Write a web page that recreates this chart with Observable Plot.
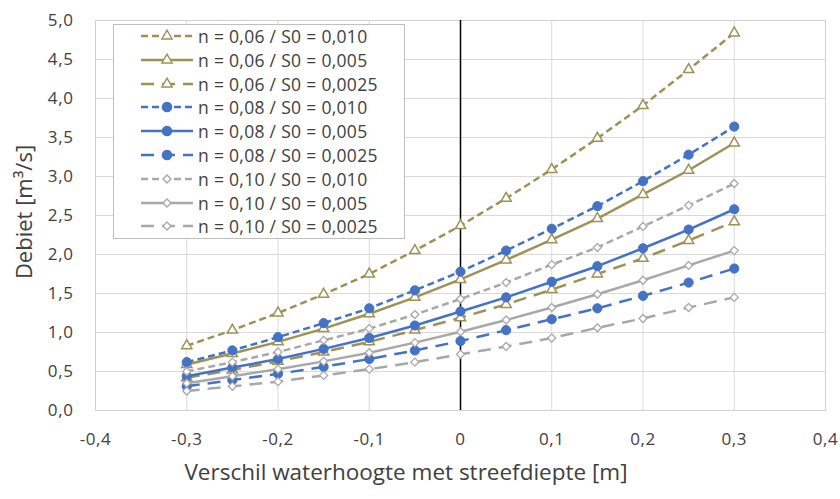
<!DOCTYPE html>
<html><head><meta charset="utf-8">
<script src="https://cdn.jsdelivr.net/npm/d3@7"></script>
<script src="https://cdn.jsdelivr.net/npm/@observablehq/plot@0.6"></script>
<style>
body{margin:0;background:#fff;}
#wrap{position:relative;width:840px;height:499px;font-family:"Open Sans",sans-serif;color:#404040;}
.lbl{position:absolute;white-space:nowrap;color:#404040;}
#legend{position:absolute;left:113px;top:24px;width:290px;height:213px;background:#fff;border:1px solid #BFBFBF;}
.row{position:absolute;left:0;height:24px;display:flex;align-items:center;}
.row span{font-size:17.5px;color:#404040;margin-left:4px;letter-spacing:0.3px;white-space:nowrap}
</style>
</head><body>
<div id="wrap"></div>
<script>
// x values: verschil waterhoogte met streefdiepte [m]
const xValues = [-0.3,-0.25,-0.2,-0.15,-0.1,-0.05,0,0.05,0.1,0.15,0.2,0.25,0.3];
const xTicks = [-0.4,-0.3,-0.2,-0.1,0,0.1,0.2,0.3,0.4];
const yTicks = [0,0.5,1,1.5,2,2.5,3,3.5,4,4.5,5];

// Debiet [m³/s]
const n006_S010  = [0.83,1.03,1.25,1.49,1.75,2.05,2.37,2.72,3.09,3.49,3.91,4.37,4.84];
const n006_S005  = [0.59,0.73,0.88,1.05,1.24,1.45,1.68,1.93,2.19,2.46,2.77,3.08,3.43];
const n006_S0025 = [0.42,0.52,0.63,0.75,0.88,1.03,1.19,1.36,1.55,1.75,1.95,2.18,2.42];
const n008_S010  = [0.62,0.77,0.94,1.12,1.31,1.54,1.78,2.05,2.33,2.62,2.94,3.28,3.64];
const n008_S005  = [0.44,0.55,0.66,0.79,0.93,1.09,1.27,1.45,1.65,1.85,2.08,2.32,2.58];
const n008_S0025 = [0.31,0.39,0.47,0.56,0.66,0.77,0.89,1.03,1.17,1.31,1.47,1.64,1.82];
const n010_S010  = [0.50,0.62,0.75,0.90,1.05,1.23,1.43,1.64,1.87,2.09,2.36,2.63,2.91];
const n010_S005  = [0.35,0.44,0.53,0.63,0.74,0.87,1.01,1.16,1.32,1.49,1.67,1.86,2.05];
const n010_S0025 = [0.25,0.31,0.37,0.45,0.53,0.62,0.72,0.82,0.93,1.06,1.18,1.32,1.45];

const seriesNames = [
  "n = 0,06 / S0 = 0,010","n = 0,06 / S0 = 0,005","n = 0,06 / S0 = 0,0025",
  "n = 0,08 / S0 = 0,010","n = 0,08 / S0 = 0,005","n = 0,08 / S0 = 0,0025",
  "n = 0,10 / S0 = 0,010","n = 0,10 / S0 = 0,005","n = 0,10 / S0 = 0,0025"
];
const seriesValues = [n006_S010,n006_S005,n006_S0025,n008_S010,n008_S005,n008_S0025,n010_S010,n010_S005,n010_S0025];

const OLIVE = "#9E9157", BLUE = "#4472C4", GRAY = "#A8A8A8";
const dashes = {"0,010":"7,4","0,005":null,"0,0025":"13,8"};
function styleOf(name){
  const n = name.slice(4,8);
  const s = name.split("S0 = ")[1];
  const color = n === "0,06" ? OLIVE : n === "0,08" ? BLUE : GRAY;
  const symbol = n === "0,06" ? "triangle" : n === "0,08" ? "circle" : "diamond2";
  return {color, symbol, dash: dashes[s]};
}
const R = {circle: 4.6, triangle: 3.8, diamond2: 3.6};

const W = 840, H = 499;
const marks = [
  Plot.gridX(xTicks, {stroke:"#D9D9D9", strokeOpacity:1, strokeWidth:1}),
  Plot.gridY(yTicks, {stroke:"#D9D9D9", strokeOpacity:1, strokeWidth:1}),
  Plot.frame({stroke:"#D0D0D0"}),
  Plot.ruleX([0], {stroke:"#000", strokeWidth:1.5})
];
seriesNames.forEach((name, i) => {
  const st = styleOf(name);
  const data = xValues.map((x, j) => ({x, y: seriesValues[i][j]}));
  marks.push(Plot.line(data, {x:"x", y:"y", stroke: st.color, strokeWidth: 2.5, strokeDasharray: st.dash, strokeLinecap:"butt"}));
  if (st.symbol === "circle")
    marks.push(Plot.dot(data, {x:"x", y:"y", r:R.circle, fill: st.color, stroke: st.color, strokeWidth:1}));
  else if (st.symbol === "triangle")
    marks.push(Plot.dot(data, {x:"x", y:"y", r:R.triangle, symbol:"triangle", fill:"#fff", stroke: st.color, strokeWidth:1.5}));
  else
    marks.push(Plot.dot(data, {x:"x", y:"y", r:R.diamond2, symbol:"diamond2", fill:"#fff", stroke: st.color, strokeWidth:1.3}));
});

const fmt = d => d === 0 ? "0" : d.toFixed(1).replace(".", ",");
const chart = Plot.plot({
  width: W, height: H,
  marginLeft: 95, marginRight: 15, marginTop: 20, marginBottom: 89,
  style: {fontFamily: '"Open Sans", sans-serif', fontSize: "17px", letterSpacing: "0.6px", color:"#404040", background:"#fff"},
  x: {domain: [-0.4, 0.4], ticks: xTicks, tickFormat: fmt, tickSize: 0, tickPadding: 22, label: null},
  y: {domain: [0, 5], ticks: yTicks, tickFormat: d => d.toFixed(1).replace(".", ","), tickSize: 0, tickPadding: 22, label: null},
  marks
});
const wrap = document.getElementById("wrap");
chart.style.position = "absolute"; chart.style.left = "0"; chart.style.top = "0";
wrap.appendChild(chart);

// axis titles
const xl = document.createElement("div");
xl.className = "lbl"; xl.textContent = "Verschil waterhoogte met streefdiepte [m]";
xl.style.cssText += "font-size:22.5px;left:406px;top:471px;transform:translate(-50%,-50%);";
wrap.appendChild(xl);
const yl = document.createElement("div");
yl.className = "lbl"; yl.innerHTML = "Debiet [m³/s]";
yl.style.cssText += "font-size:22px;left:23px;top:212px;transform:translate(-50%,-50%) rotate(-90deg);";
wrap.appendChild(yl);

// legend
const lg = document.createElement("div"); lg.id = "legend";
seriesNames.forEach((name, i) => {
  const st = styleOf(name);
  const row = document.createElement("div"); row.className = "row";
  row.style.top = (-1 + i * 23.8) + "px"; row.style.left = "26px";
  const svg = d3.create("svg").attr("width", 54).attr("height", 24);
  svg.append("line").attr("x1", 1).attr("x2", 53).attr("y1", 12).attr("y2", 12)
    .attr("stroke", st.color).attr("stroke-width", 2.5).attr("stroke-dasharray", st.dash);
  const sym = st.symbol === "circle" ? d3.symbolCircle : st.symbol === "triangle" ? d3.symbolTriangle : d3.symbolDiamond2;
  const r = R[st.symbol];
  svg.append("path").attr("d", d3.symbol(sym, Math.PI * r * r)()).attr("transform","translate(27,12)")
    .attr("fill", st.symbol === "circle" ? st.color : "#fff").attr("stroke", st.color).attr("stroke-width", 1.4);
  row.appendChild(svg.node());
  const t = document.createElement("span"); t.textContent = name;
  row.appendChild(t);
  lg.appendChild(row);
});
wrap.appendChild(lg);
</script>
</body></html>
